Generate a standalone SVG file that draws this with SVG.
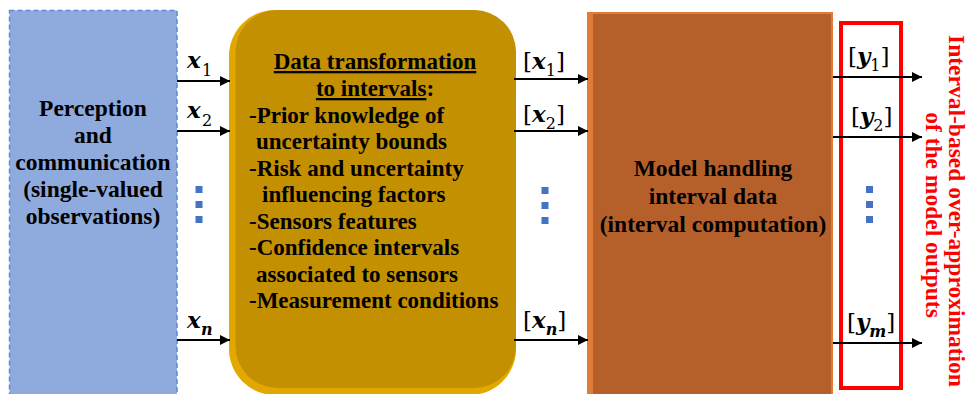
<svg xmlns="http://www.w3.org/2000/svg" width="970" height="394" viewBox="0 0 970 394">
  <defs>
    <marker id="arrow" viewBox="0 0 10 10" refX="10" refY="5" markerWidth="5.5" markerHeight="5" orient="auto" markerUnits="strokeWidth">
      <path d="M0,0 L10,5 L0,10 z" fill="#000"/>
    </marker>
    <style>
      .t { font-family: Liberation Serif, Tinos, Times New Roman, DejaVu Serif, serif; font-weight: bold; font-size: 23.5px; fill: #000; }
      .y { font-size: 23px; }
      .c { text-anchor: middle; }
      .red { fill: #FF0000; font-size: 23.5px; }
      .m { font-family: DejaVu Serif, Liberation Serif, serif; font-size: 23px; fill: #000; }
      .mi { font-style: italic; font-weight: bold; }
      .sub { font-size: 16px; }
      .conn line { stroke: #000; stroke-width: 2; marker-end: url(#arrow); }
      .dot { fill: #4472C4; }
    </style>
  </defs>

  <rect width="970" height="394" fill="#fff"/>

  <!-- Perception block -->
  <g id="perception">
    <rect x="9.5" y="10.5" width="167.5" height="390" fill="#8FAADC" stroke="#5B8BD6" stroke-width="1.5" stroke-dasharray="5 3"/>
    <text class="t c" x="93" y="116">Perception</text>
    <text class="t c" x="93" y="143">and</text>
    <text class="t c" x="93" y="170">communication</text>
    <text class="t c" x="93" y="197">(single-valued</text>
    <text class="t c" x="93" y="224">observations)</text>
  </g>

  <!-- Data transformation block -->
  <g id="transformation">
    <rect x="229" y="10" width="287" height="385" rx="46" ry="46" fill="#E2A800"/>
    <rect x="235.5" y="10" width="280.5" height="378" rx="42" ry="42" fill="#C29000"/>
    <text class="t y c" x="375" y="69" text-decoration="underline">Data transformation</text>
    <text class="t y c" x="375" y="96"><tspan text-decoration="underline">to intervals</tspan>:</text>
    <text class="t y" x="249" y="123">-Prior knowledge of</text>
    <text class="t y" x="256" y="149">uncertainty bounds</text>
    <text class="t y" x="249" y="176">-Risk and uncertainty</text>
    <text class="t y" x="262" y="202">influencing factors</text>
    <text class="t y" x="249" y="229">-Sensors features</text>
    <text class="t y" x="249" y="255">-Confidence intervals</text>
    <text class="t y" x="256" y="282">associated to sensors</text>
    <text class="t y" x="249" y="308">-Measurement conditions</text>
  </g>

  <!-- Model block -->
  <g id="model">
    <rect x="587" y="12" width="246" height="384" fill="#E07B39"/>
    <rect x="593" y="14" width="238" height="382" fill="#B5602A"/>
    <text class="t c" x="713" y="176">Model handling</text>
    <text class="t c" x="713" y="204">interval data</text>
    <text class="t c" x="713" y="232">(interval computation)</text>
  </g>

  <!-- Output over-approximation frame -->
  <g id="outputs">
    <rect x="841" y="23" width="60" height="365" fill="none" stroke="#FF0000" stroke-width="4"/>
    <g transform="translate(949,211) rotate(90)">
      <text class="t c red" x="0" y="0">Interval-based over-approximation</text>
      <text class="t c red" x="4" y="23">of the model outputs</text>
    </g>
  </g>

  <!-- Connectors -->
  <g id="connectors" class="conn">
    <line x1="177" y1="81" x2="230" y2="81"/>
    <line x1="177" y1="131" x2="230" y2="131"/>
    <line x1="177" y1="340" x2="230" y2="340"/>
    <line x1="514" y1="79" x2="588" y2="79"/>
    <line x1="514" y1="131" x2="588" y2="131"/>
    <line x1="514" y1="340" x2="588" y2="340"/>
    <line x1="833" y1="77" x2="922" y2="77"/>
    <line x1="833" y1="137" x2="922" y2="137"/>
    <line x1="833" y1="343" x2="922" y2="343"/>
  </g>

  <!-- Connector labels -->
  <g id="labels">
    <text class="m" x="187" y="68"><tspan class="mi">x</tspan><tspan class="sub" x="202" y="76">1</tspan></text>
    <text class="m" x="187" y="118"><tspan class="mi">x</tspan><tspan class="sub" x="202" y="126">2</tspan></text>
    <text class="m" x="187" y="328"><tspan class="mi">x</tspan><tspan class="sub mi" x="201" y="335">n</tspan></text>

    <text class="m" x="523" y="69">[<tspan class="mi">x</tspan><tspan class="sub" y="76">1</tspan><tspan y="69">]</tspan></text>
    <text class="m" x="523" y="122">[<tspan class="mi">x</tspan><tspan class="sub" y="129">2</tspan><tspan y="122">]</tspan></text>
    <text class="m" x="523" y="328">[<tspan class="mi">x</tspan><tspan class="sub mi" y="335">n</tspan><tspan y="328">]</tspan></text>

    <text class="m" x="848" y="64">[<tspan class="mi">y</tspan><tspan class="sub" y="71">1</tspan><tspan y="64">]</tspan></text>
    <text class="m" x="851" y="124">[<tspan class="mi">y</tspan><tspan class="sub" y="131">2</tspan><tspan y="124">]</tspan></text>
    <text class="m" x="847" y="330">[<tspan class="mi">y</tspan><tspan class="sub mi" y="337">m</tspan><tspan y="330">]</tspan></text>
  </g>

  <!-- Ellipsis markers -->
  <g id="ellipses">
    <rect class="dot" x="195.5" y="186" width="7" height="7"/>
    <rect class="dot" x="195.5" y="201" width="7" height="7"/>
    <rect class="dot" x="195.5" y="216" width="7" height="7"/>
    <rect class="dot" x="541.5" y="187" width="7" height="7"/>
    <rect class="dot" x="541.5" y="202" width="7" height="7"/>
    <rect class="dot" x="541.5" y="217" width="7" height="7"/>
    <rect class="dot" x="866" y="186" width="7" height="7"/>
    <rect class="dot" x="866" y="201" width="7" height="7"/>
    <rect class="dot" x="866" y="216" width="7" height="7"/>
  </g>
</svg>
